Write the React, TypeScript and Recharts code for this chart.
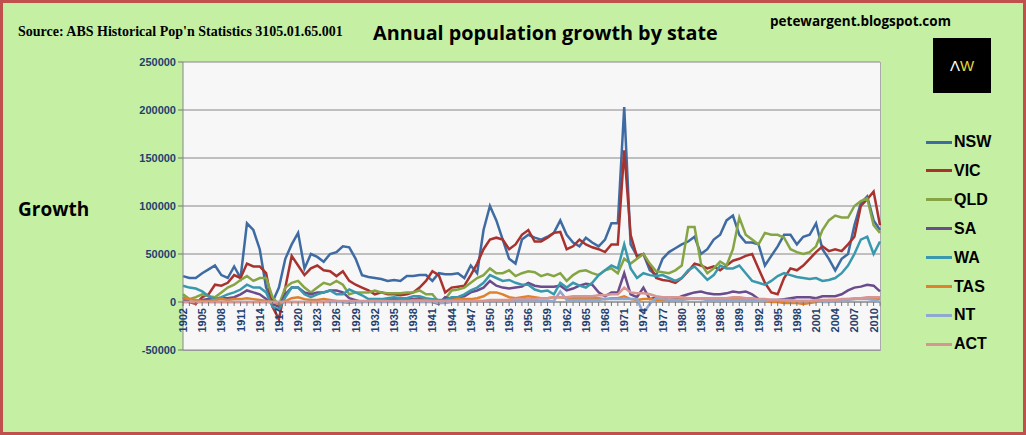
import React from "react";
import { LineChart, Line, XAxis, YAxis, CartesianGrid, ReferenceLine } from "recharts";

const years: number[] = Array.from({ length: 110 }, (_, i) => 1902 + i);
const yTicks = [-50000, 0, 50000, 100000, 150000, 200000, 250000];

// values in thousands
const nsw = [27,25,25,30,34,38,28,25,37,25,82,75,55,15,0,15,45,60,72,35,50,47,42,50,52,58,57,45,28,26,25,24,22,23,22,27,27,28,28,22,30,29,29,30,25,38,30,75,100,85,65,45,40,65,70,67,65,68,72,85,70,62,58,67,62,58,65,82,82,203,60,48,50,33,28,45,52,56,60,63,68,50,55,65,70,85,90,70,62,62,60,38,48,58,70,70,60,68,70,82,55,45,33,45,50,80,103,110,85,75];
const vic = [5,0,-2,5,8,18,17,20,28,25,40,37,37,30,-5,-18,15,48,38,28,35,38,33,32,27,32,22,18,15,12,8,10,8,8,7,8,10,15,22,32,28,10,15,16,17,28,40,55,65,67,65,55,60,70,75,63,63,67,72,73,55,58,65,60,57,55,52,60,60,158,70,47,50,38,25,23,22,20,25,32,40,38,35,37,33,38,43,45,48,50,35,20,10,8,25,35,33,38,45,52,58,53,55,53,60,68,100,107,115,80];
const qld = [8,3,5,8,6,5,10,15,18,23,27,22,25,25,5,-3,15,20,22,15,10,15,20,18,22,18,8,10,10,10,12,10,9,9,9,10,10,12,8,8,0,3,12,13,15,20,25,28,35,30,30,33,27,30,32,31,27,29,27,30,22,28,32,33,30,28,33,35,30,45,40,45,50,40,32,31,30,33,38,78,78,40,30,35,42,38,55,88,70,65,60,72,70,70,67,55,52,50,52,58,75,85,90,88,88,100,105,108,80,72];
const sa = [2,0,0,2,3,3,4,4,5,8,12,10,8,3,-2,-5,8,15,15,10,8,10,10,12,12,10,4,2,0,1,2,2,2,3,3,3,3,4,3,0,-2,5,3,5,6,10,12,15,22,17,15,14,15,16,20,17,16,16,16,17,12,14,17,19,18,10,6,10,10,30,8,5,15,3,5,4,2,3,6,8,10,11,9,8,8,9,11,10,11,8,3,2,2,2,3,4,5,5,5,4,6,6,6,8,12,15,16,18,17,11];
const wa = [17,15,14,11,6,3,5,8,10,13,18,15,15,10,-5,-8,5,15,15,8,5,8,10,12,8,8,13,10,7,3,3,3,4,5,4,4,6,6,4,3,2,2,5,5,8,12,15,20,28,25,22,23,20,18,18,13,11,12,8,20,15,20,17,15,20,28,33,38,35,60,35,25,30,28,27,28,25,22,25,33,37,30,23,28,38,35,35,38,30,22,20,18,22,27,30,28,26,25,24,25,22,23,25,30,38,50,65,68,50,63];
const tas = [4,3,2,1,1,2,3,2,3,3,4,3,2,1,0,-2,1,4,5,3,2,2,3,2,1,0,-1,0,0,1,1,1,1,1,1,1,2,2,2,1,0,1,2,3,3,3,4,6,10,10,8,5,4,5,6,5,4,4,5,5,4,4,4,4,4,4,3,4,4,6,3,2,3,3,2,2,2,2,3,3,4,4,3,3,3,3,4,3,3,2,2,1,0,0,-1,-1,-1,-2,-1,0,1,2,2,2,3,3,4,4,4,3];
const nt = [0,0,0,0,0,0,0,0,0,0,0,0,0,0,0,0,0,0,0,0,0,0,0,0,0,0,0,0,0,0,0,0,0,0,0,0,0,0,0,0,-1,-1,0,1,1,1,1,1,1,1,1,1,1,1,1,1,1,1,1,11,2,2,2,2,2,2,3,3,3,3,3,3,-12,-2,4,3,2,2,2,3,3,3,2,2,2,2,2,2,2,1,1,1,2,2,2,2,1,1,1,1,0,0,1,1,2,3,3,3,2,0];
const act = [0,0,0,0,0,0,0,0,0,0,0,0,0,0,0,0,0,0,0,0,0,0,0,1,1,1,1,1,1,1,1,1,1,1,1,1,1,1,1,1,1,1,1,1,1,1,1,1,2,2,2,2,3,3,3,3,4,4,5,5,5,6,6,6,6,7,7,8,8,15,10,9,9,8,6,5,5,5,5,4,4,4,4,4,4,4,5,5,4,4,3,3,2,2,2,1,1,1,1,2,2,2,2,3,3,4,4,5,5,5];

const series = [
  { key: "NSW", vals: nsw, color: "#3f6ba3" },
  { key: "VIC", vals: vic, color: "#a8322e" },
  { key: "QLD", vals: qld, color: "#85a544" },
  { key: "SA", vals: sa, color: "#6a4b8c" },
  { key: "WA", vals: wa, color: "#3a98ad" },
  { key: "TAS", vals: tas, color: "#e0822d" },
  { key: "NT", vals: nt, color: "#8ea8cf" },
  { key: "ACT", vals: act, color: "#d99591" },
];

const data = years.map((y, i) => {
  const row: any = { year: String(y) };
  series.forEach((s) => (row[s.key] = s.vals[i] * 1000));
  return row;
});

const PLOT_TOP = 59;
const PLOT_BOTTOM = 347;
const ZERO_Y = PLOT_TOP + ((250000 - 0) / 300000) * (PLOT_BOTTOM - PLOT_TOP);

const XTick = (props: any) => {
  const { x, payload } = props;
  const yr = Number(payload.value);
  const y0 = ZERO_Y;
  return (
    <g>
      <line x1={x} x2={x} y1={y0} y2={y0 + 4} stroke="#777" />
      {(yr - 1902) % 3 === 0 && (
        <text x={x} y={y0 + 6} transform={`rotate(-90 ${x} ${y0 + 6})`} textAnchor="end" dy={4}
          fill="#1f3f6e" fontSize={11} fontWeight="bold" fontFamily="Arial, Liberation Sans, sans-serif">
          {yr}
        </text>
      )}
    </g>
  );
};

export default function App() {
  return (
    <div style={{ position: "absolute", left: 0, top: 0, width: 1026, height: 435, background: "#c5f0a4", boxSizing: "border-box", border: "3px solid #c0504d", fontFamily: "Arial, Liberation Sans, sans-serif", overflow: "hidden" }}>
      <div style={{ position: "absolute", left: 15, top: 21, fontFamily: "Liberation Serif, Times New Roman, serif", fontWeight: "bold", fontSize: 14 }}>
        Source: ABS Historical Pop'n Statistics 3105.01.65.001
      </div>
      <div style={{ position: "absolute", left: 370, top: 16, fontWeight: "bold", fontSize: 19.8, fontFamily: "Open Sans, sans-serif" }}>
        Annual population growth by state
      </div>
      <div style={{ position: "absolute", left: 767, top: 9, fontWeight: "bold", fontSize: 13.5, fontFamily: "Open Sans, sans-serif" }}>
        petewargent.blogspot.com
      </div>
      <div style={{ position: "absolute", left: 930, top: 35, width: 58, height: 55, background: "#000", color: "#fff", fontSize: 15, display: "flex", alignItems: "center", justifyContent: "center" }}>
        <span>Λ</span><span style={{ color: "#e6d43a" }}>W</span>
      </div>
      <div style={{ position: "absolute", left: 15, top: 193, fontWeight: "bold", fontSize: 19, fontFamily: "Open Sans, sans-serif" }}>Growth</div>
      <div style={{ position: "absolute", left: 180, top: PLOT_TOP, width: 697, height: PLOT_BOTTOM - PLOT_TOP, background: "#f7f7f7", borderRight: "1px solid #aaa", borderBottom: "1px solid #aaa" }} />
      <div style={{ position: "absolute", left: 0, top: 0 }}>
        <LineChart width={1020} height={429} data={data} margin={{ top: PLOT_TOP, right: 143, bottom: 429 - PLOT_BOTTOM - 30, left: 120 }}>
          <CartesianGrid horizontal vertical={false} stroke="#888" />
          <XAxis dataKey="year" interval={0} tick={<XTick />} tickLine={false} axisLine={false} height={30} />
          <YAxis domain={[-50000, 250000]} ticks={yTicks} interval={0} width={60}
            tick={{ fill: "#1f3f6e", fontSize: 11, fontWeight: "bold" }} tickLine={{ stroke: "#777" }} tickSize={5} axisLine={{ stroke: "#888" }} />
          <ReferenceLine y={0} stroke="#888" />
          {series.map((s) => (
            <Line key={s.key} dataKey={s.key} stroke={s.color} strokeWidth={2.5} dot={false} isAnimationActive={false} />
          ))}
        </LineChart>
      </div>
      {series.map((s, i) => (
        <div key={s.key} style={{ position: "absolute", left: 923, top: 130 + i * 28.9, display: "flex", alignItems: "center", fontWeight: "bold", fontSize: 16 }}>
          <div style={{ width: 26, height: 3, background: s.color, marginRight: 2 }} />
          {s.key}
        </div>
      ))}
    </div>
  );
}
